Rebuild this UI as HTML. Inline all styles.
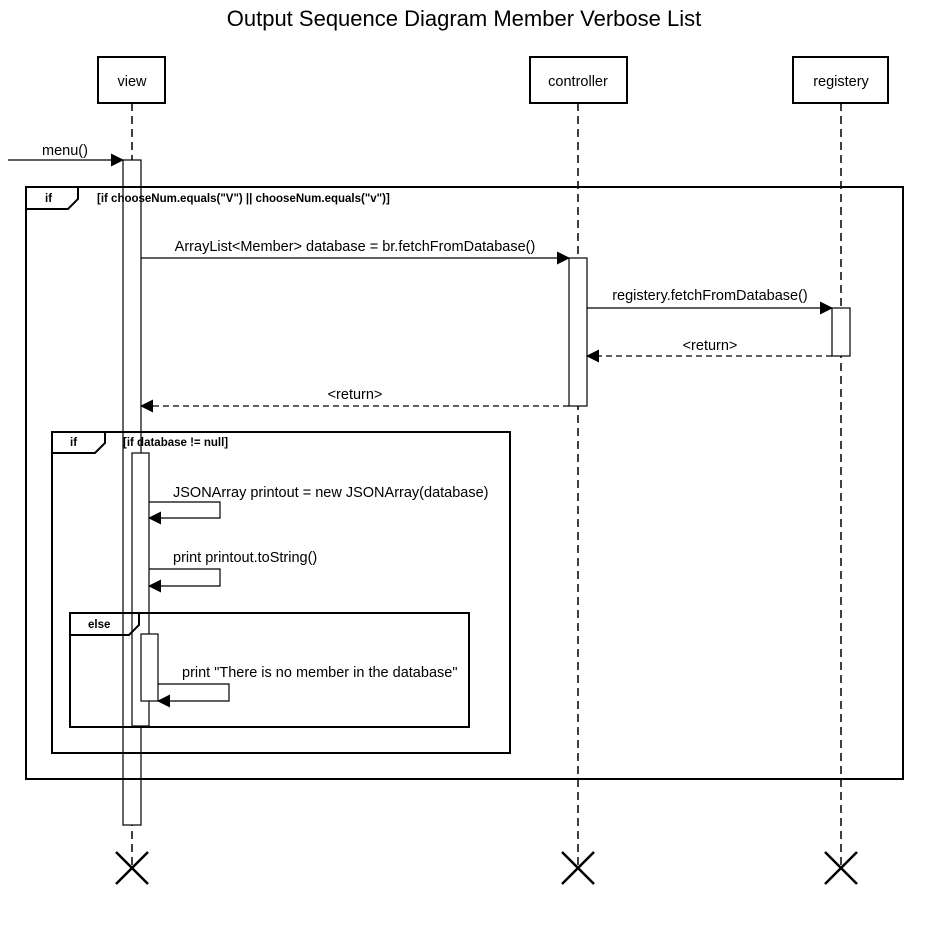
<!DOCTYPE html>
<html><head><meta charset="utf-8"><style>body{margin:0;background:#fff}svg{display:block}text{font-family:"Liberation Sans",Arial,sans-serif}</style></head><body>
<svg width="928" height="930" viewBox="0 0 928 930" xmlns="http://www.w3.org/2000/svg">
<defs>
<marker id="a" markerWidth="13" markerHeight="13" refX="12" refY="6.5" orient="auto" markerUnits="userSpaceOnUse"><path d="M0,0 L13,6.5 L0,13 z" fill="#000"/></marker>
</defs>
<rect width="928" height="930" fill="#fff"/>
<text x="464" y="26" font-size="22" text-anchor="middle">Output Sequence Diagram Member Verbose List</text>
<g stroke="#000" stroke-width="1.5" stroke-dasharray="8,5" fill="none">
<line x1="132" y1="103" x2="132" y2="868"/>
<line x1="578" y1="103" x2="578" y2="868"/>
<line x1="841" y1="103" x2="841" y2="868"/>
</g>
<g stroke="#000" stroke-width="2" fill="#fff">
<rect x="98" y="57" width="67" height="46"/>
<rect x="530" y="57" width="97" height="46"/>
<rect x="793" y="57" width="95" height="46"/>
</g>
<g font-size="14.5" text-anchor="middle">
<text x="132" y="86">view</text><text x="578" y="86">controller</text><text x="841" y="86">registery</text>
</g>
<g stroke="#000" stroke-width="2.5">
<path d="M116,852 L148,884 M148,852 L116,884"/>
<path d="M562,852 L594,884 M594,852 L562,884"/>
<path d="M825,852 L857,884 M857,852 L825,884"/>
</g>
<g stroke="#000" stroke-width="1.2" fill="#fff">
<rect x="123" y="160" width="18" height="665"/>
<rect x="569" y="258" width="18" height="148"/>
<rect x="832" y="308" width="18" height="48"/>
</g>
<g stroke="#000" stroke-width="2" fill="none">
<rect x="26" y="187" width="877" height="592"/>
<path d="M26,209 L68,209 L78,199 L78,187"/>
<rect x="52" y="432" width="458" height="321"/>
<path d="M52,453 L95,453 L105,443 L105,432"/>
</g>
<text x="45" y="202" font-size="11.5" font-weight="bold">if</text>
<text x="97" y="202" font-size="11.5" font-weight="bold">[if chooseNum.equals("V") || chooseNum.equals("v")]</text>
<text x="70" y="446" font-size="11.5" font-weight="bold">if</text>
<text x="123" y="446" font-size="11.5" font-weight="bold">[if database != null]</text>
<rect x="132" y="453" width="17" height="273" fill="#fff" stroke="#000" stroke-width="1.2"/>
<g stroke="#000" stroke-width="2" fill="none">
<rect x="70" y="613" width="399" height="114"/>
<path d="M70,635 L129,635 L139,625 L139,613"/>
</g>
<text x="88" y="628" font-size="11.5" font-weight="bold">else</text>
<rect x="141" y="634" width="17" height="67" fill="#fff" stroke="#000" stroke-width="1.2"/>
<g stroke="#000" stroke-width="1.2" fill="none">
<line x1="8" y1="160" x2="123" y2="160" marker-end="url(#a)"/>
<line x1="141" y1="258" x2="569" y2="258" marker-end="url(#a)"/>
<line x1="587" y1="308" x2="832" y2="308" marker-end="url(#a)"/>
<line x1="832" y1="356" x2="587" y2="356" stroke-dasharray="6,4" marker-end="url(#a)"/>
<line x1="569" y1="406" x2="141" y2="406" stroke-dasharray="6,4" marker-end="url(#a)"/>
<path d="M149,502 L220,502 L220,518 L149,518" marker-end="url(#a)"/>
<path d="M149,569 L220,569 L220,586 L149,586" marker-end="url(#a)"/>
<path d="M158,684 L229,684 L229,701 L158,701" marker-end="url(#a)"/>
</g>
<g font-size="14.5">
<text x="65" y="155" text-anchor="middle">menu()</text>
<text x="355" y="251" text-anchor="middle">ArrayList&lt;Member&gt; database = br.fetchFromDatabase()</text>
<text x="710" y="300" text-anchor="middle">registery.fetchFromDatabase()</text>
<text x="710" y="350" text-anchor="middle">&lt;return&gt;</text>
<text x="355" y="399" text-anchor="middle">&lt;return&gt;</text>
<text x="173" y="497">JSONArray printout = new JSONArray(database)</text>
<text x="173" y="562">print printout.toString()</text>
<text x="182" y="677">print "There is no member in the database"</text>
</g>
</svg>
</body></html>
